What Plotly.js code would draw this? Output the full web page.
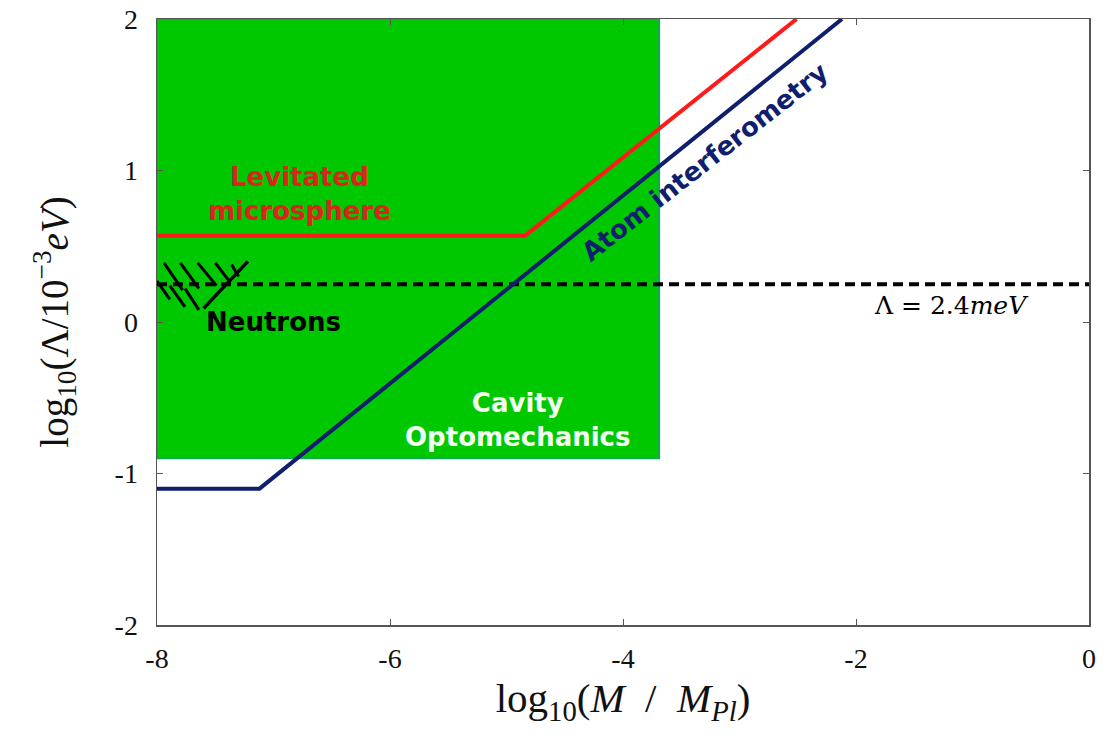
<!DOCTYPE html>
<html>
<head>
<meta charset="utf-8">
<script src="https://cdn.plot.ly/plotly-3.0.1.min.js"></script>
<style>html,body{margin:0;padding:0;background:#fff;}#chart{width:1119px;height:735px;}</style>
</head>
<body>
<div id="chart"></div>
<script>
// Cavity optomechanics excluded region (rectangle corners)
const cavityX = [-8, -3.69, -3.69, -8, -8];
const cavityY = [2, 2, -0.9, -0.9, 2];
// Levitated microsphere bound
const leviX = [-8, -4.84, -2.51];
const leviY = [0.57, 0.57, 2];
// Atom interferometry bound
const atomX = [-8, -7.12, -2.12];
const atomY = [-1.1, -1.1, 2];
// Lambda = 2.4 meV dashed line
const lambdaX = [-8, 0];
const lambdaY = [0.25, 0.25];
// Neutron bound (main stroke) and hatches
const neutronX = [-7.22, -7.60];
const neutronY = [0.40, 0.09];
const hatchX0 = [-7.94, -7.80, -7.65, -7.50, -7.36, -8.00, -7.89, -7.76];
const hatchY0 = [0.39, 0.39, 0.39, 0.39, 0.38, 0.27, 0.24, 0.22];
const hatchX1 = [-7.78, -7.64, -7.49, -7.37, -7.30, -7.89, -7.76, -7.64];
const hatchY1 = [0.21, 0.22, 0.24, 0.26, 0.30, 0.15, 0.10, 0.08];

const xTicks = [-8, -6, -4, -2, 0];
const yTicks = [-2, -1, 0, 1, 2];

// build hatch trace
const hx = [], hy = [];
for (let i = 0; i < hatchX0.length; i++) {
  hx.push(hatchX0[i], hatchX1[i], null);
  hy.push(hatchY0[i], hatchY1[i], null);
}

const traces = [
  {x: cavityX, y: cavityY, mode: 'lines', fill: 'toself', fillcolor: 'rgb(0,200,0)',
   line: {color: 'rgb(20,165,90)', width: 2}, hoverinfo: 'skip'},
  {x: lambdaX, y: lambdaY, mode: 'lines', line: {color: '#000', width: 4, dash: '10px,6px'}},
  {x: leviX, y: leviY, mode: 'lines', line: {color: '#ff1a1a', width: 4}},
  {x: atomX, y: atomY, mode: 'lines', line: {color: '#0f1f6e', width: 4}},
  {x: neutronX, y: neutronY, mode: 'lines', line: {color: '#000', width: 3.5}},
  {x: hx, y: hy, mode: 'lines', line: {color: '#000', width: 3}}
];

const labelFont = 'DejaVu Sans, Open Sans, sans-serif';
const serif = 'Liberation Serif, serif';
const layout = {
  width: 1119, height: 735,
  margin: {l: 157, r: 30, t: 19, b: 110},
  paper_bgcolor: '#fff', plot_bgcolor: '#fff',
  showlegend: false,
  xaxis: {
    range: [-8, 0], tickvals: xTicks, ticktext: xTicks.map(String),
    showgrid: false, zeroline: false, showline: true, mirror: 'ticks',
    linecolor: '#555', linewidth: 1.5, ticks: 'inside', ticklen: 6, tickcolor: '#555',
    ticklabelstandoff: 8,
    tickfont: {family: serif, size: 28, color: '#111'},
    title: {text: 'log<sub>10</sub>(<i>M</i>  /  <i>M</i><sub><i>Pl</i></sub>)',
      font: {family: serif, size: 41, color: '#111'}, standoff: 10}
  },
  yaxis: {
    range: [-2, 2], tickvals: yTicks, ticktext: yTicks.map(String),
    showgrid: false, zeroline: false, showline: true, mirror: 'ticks',
    linecolor: '#555', linewidth: 1.5, ticks: 'inside', ticklen: 6, tickcolor: '#555',
    ticklabelstandoff: 12,
    tickfont: {family: serif, size: 28, color: '#111'},
    title: {text: 'log<sub>10</sub>(Λ/10<sup>−3</sup><i>eV</i>)',
      font: {family: serif, size: 39, color: '#111'}, standoff: 34}
  },
  annotations: [
    {x: -6.78, y: 0.845, text: '<b>Levitated<br>microsphere</b>', showarrow: false,
     font: {family: labelFont, size: 26, color: '#d8261c'}},
    {x: -4.90, y: -0.647, text: '<b>Cavity<br>Optomechanics</b>', showarrow: false,
     font: {family: labelFont, size: 26, color: '#f2fff2'}},
    {x: -7.00, y: 0.0, text: '<b>Neutrons</b>', showarrow: false,
     font: {family: labelFont, size: 26, color: '#000'}},
    {x: -3.30, y: 1.056, text: '<b>Atom interferometry</b>', showarrow: false, textangle: -38,
     font: {family: labelFont, size: 26, color: '#0f1f6e'}},
    {x: -1.18, y: 0.106, text: 'Λ\u00a0=\u00a02.4<i>meV</i>', showarrow: false,
     font: {family: 'DejaVu Serif, serif', size: 25, color: '#000'}}
  ]
};

Plotly.newPlot('chart', traces, layout, {displayModeBar: false, staticPlot: true});
</script>
</body>
</html>
